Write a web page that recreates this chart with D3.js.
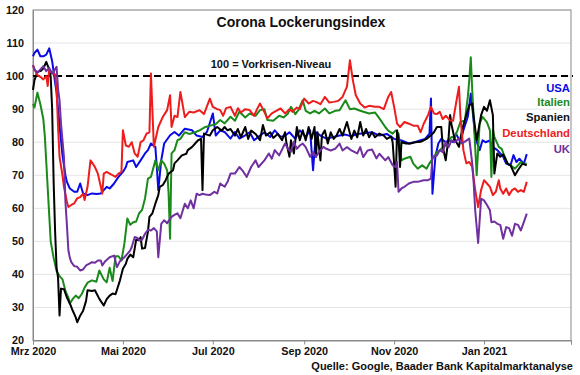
<!DOCTYPE html>
<html>
<head>
<meta charset="utf-8">
<script src="https://cdn.jsdelivr.net/npm/d3@7"></script>
<style>
  body { margin: 0; background: #fff; }
  text { font-family: "Liberation Sans", Arial, sans-serif; font-weight: bold; }
</style>
</head>
<body>
<div id="chart"></div>
<script>
/* Corona Lockerungsindex - Google mobility, 100 = pre-crisis level */

// day offsets counted from 1 March 2020, value = index
const usa = [[0,106],[1,107],[3,108],[5,106],[7,106],[9,106.5],[11,108.4],[13,104.5],[15,98],[16,95],[18,85],[20,76],[22,70],[23,68],[25,66],[28,65],[30,65],[32,67.5],[34,64.5],[37,64],[40,64.5],[43,64.3],[46,64.5],[48,65.5],[50,66.5],[52,66],[55,67.5],[58,69.5],[61,71],[63,72.5],[64,74],[68,74.5],[70,72.5],[73,74.5],[76,76.6],[78,77.6],[80,79.6],[83,78.6],[84,72.5],[85,65.5],[87,74.5],[89,79.6],[93,82.1],[96,83.1],[99,82],[103,84.1],[108,83.6],[111,82],[115,81.6],[118,83.1],[122,88.7],[124,82],[127,83.6],[130,83.1],[134,81.1],[137,83.1],[140,81.1],[144,82.1],[147,83],[150,80.6],[154,82],[157,83],[161,81.6],[164,83.6],[168,81.6],[171,82],[174,83],[178,81],[181,83.6],[185,81.6],[188,83.6],[190,71.5],[192,83],[195,82],[199,81.1],[203,81.5],[208,82],[212,82.3],[216,81.8],[220,82.5],[225,82.7],[230,83],[235,82],[240,82.5],[245,81],[250,80.5],[255,79.6],[259,80],[263,80.6],[266,81],[269,82.6],[270,93.2],[271,64.4],[273,75.6],[275,79.6],[277,81],[280,80],[282,80.6],[285,80],[287,82.6],[290,80],[292,83.6],[295,87.7],[297,94.7],[298,90.7],[300,81.6],[303,77.6],[305,80.6],[307,80],[310,80.5],[312,78.5],[315,77.6],[317,76.6],[319,75.6],[321,73.5],[324,73],[326,76.1],[328,74],[330,75],[333,73.5],[335,76.4]];

const italien = [[0,91.5],[1,90.5],[3,95],[5,91.5],[7,87],[8,82],[9,74],[10,66],[11,58],[12,50],[14,45],[16,41],[18,39.5],[20,38.5],[22,35],[24,33],[25,31.2],[27,32.6],[29,33.6],[31,32.8],[33,34],[35,36],[37,37.5],[40,38.2],[43,37.8],[45,41.2],[48,38.5],[50,37.6],[52,42],[54,38],[56,45.5],[58,45.5],[60,44.2],[62,49.3],[64,56.9],[66,55],[68,55.8],[70,56],[72,58.5],[74,59.5],[76,63],[78,69],[80,69.5],[83,74.5],[85,71.5],[87,74.5],[89,73.5],[91,71.5],[92,64.4],[93,50.8],[94,76.6],[96,77.6],[98,80.6],[100,81],[103,83],[106,82.5],[110,83],[113,83.6],[117,84.6],[121,85.1],[124,85.5],[127,86.7],[130,85.7],[134,87.7],[137,86.5],[140,89.2],[144,87.5],[147,88.7],[151,88],[154,89.7],[157,90],[159,86.7],[163,86.5],[167,88],[170,87.5],[173,88.7],[175,90.7],[178,88.5],[180,89.7],[183,92.7],[185,89.5],[188,88.7],[191,89.5],[194,88.7],[198,90.2],[201,88.7],[205,89.5],[208,89.7],[212,92.7],[215,90],[218,90.2],[222,89.5],[228,88.7],[232,89],[235,87.2],[239,84.6],[241,83.5],[244,82.6],[246,83.5],[248,82.6],[250,74.5],[252,75],[256,75.6],[258,73.5],[261,72],[264,73],[267,72],[269,73.6],[272,75.6],[274,77],[276,77.5],[278,78.5],[280,79],[282,80.6],[284,81.6],[286,81.5],[288,83.6],[290,86.2],[293,86.5],[295,93.7],[296,98.8],[297,105.7],[298,95.7],[300,78.6],[301,70],[303,85.6],[305,87.7],[308,86],[310,83.6],[311,69.5],[312,83.6],[313,81.6],[316,78.6],[318,78],[320,75.6],[322,73.5],[324,73],[327,72],[329,73],[331,74],[333,73.5],[335,73.5]];

const spanien = [[0,95.8],[1,98.8],[3,101.3],[5,101.5],[7,102.3],[9,104.3],[11,102],[12,99.8],[13,90],[14,68],[15,53],[16,42],[17,39],[18,27.6],[19,35.7],[21,35.5],[23,33],[25,31.2],[27,29],[29,27],[30,25.5],[32,27.5],[34,29],[36,32],[37,35.2],[40,35],[42,35.2],[45,32.6],[48,30.6],[50,32.5],[52,33.6],[54,34.2],[56,34],[59,38.2],[61,41.7],[63,43.2],[64,44.7],[66,46],[68,45.2],[70,50.5],[72,50.3],[73,51.3],[74,47.8],[76,48],[78,53],[79,57.4],[81,58.5],[83,61.4],[85,64],[86,66.5],[88,67],[90,68.5],[92,70.5],[95,71.5],[96,73.6],[98,74.5],[101,76],[104,76.5],[105,77.6],[108,78.6],[110,79.6],[112,80.6],[114,81],[115,65.5],[116,82.6],[120,82],[122,83.6],[125,84.6],[128,83.5],[130,84.6],[132,83.6],[134,84],[137,82],[139,84],[141,81.5],[144,84.6],[146,81],[148,83.5],[151,82.5],[154,80.6],[156,85.2],[158,82],[161,83],[163,81.3],[166,82.5],[169,80.6],[171,83],[172,79.6],[174,75.6],[175,80.6],[177,76.6],[179,84.6],[181,80.6],[183,83.6],[185,80.6],[187,84.6],[189,81],[191,84.6],[192,75.6],[193,83],[195,74.5],[196,82],[198,83.6],[200,79.6],[202,83],[204,81],[206,82.1],[208,84],[210,82],[213,86.1],[216,81],[218,83.5],[220,81.5],[222,86.1],[224,82],[226,84],[228,81.5],[230,83],[232,81.5],[235,82.6],[238,82],[240,81],[243,81.7],[244,80],[245,73.5],[246,66.5],[247,83.6],[248,81],[249,72.5],[250,80],[253,79.6],[256,79.6],[259,80],[263,80.1],[267,81],[270,82.1],[272,83],[274,84.6],[277,84.6],[278,78.6],[280,74.5],[282,81.6],[283,88.2],[284,85.2],[286,81],[289,78.6],[291,83.6],[293,86.7],[296,91.2],[298,91.7],[299,87.7],[301,80.6],[304,88.2],[306,90.7],[308,89.5],[310,92.7],[312,88.2],[313,70.5],[315,76.6],[317,75.6],[319,76.3],[322,73.5],[324,73],[325,72],[327,70],[329,71.5],[332,73.5],[335,73]];

const deutschland = [[0,103.3],[1,102],[3,100.3],[5,99.8],[7,99],[9,100],[10,97],[11,102],[13,101],[15,100.5],[16,96],[17,84.6],[18,75.6],[20,70],[21,66.5],[23,62],[24,60.4],[26,61],[28,61.5],[30,63],[32,63.4],[34,64.4],[35,62.5],[37,66.5],[39,74.5],[41,73.2],[42,72.5],[44,70.5],[46,66.5],[47,64.4],[48,70.5],[50,71],[52,70.5],[54,70],[56,69.5],[58,70.5],[60,71],[61,83.6],[63,79],[65,78.6],[67,80],[69,76.6],[71,75.6],[73,80],[75,80.6],[77,82.6],[79,83],[80,100.8],[82,78.6],[85,84.6],[88,87.6],[91,89.7],[93,94.2],[94,84.6],[96,88],[98,87.6],[100,95.2],[103,87.6],[106,89.2],[109,89],[113,89.7],[116,88.5],[120,93.2],[122,90.7],[125,90],[127,89.7],[129,88],[131,90.3],[134,90.7],[137,88],[139,90.3],[141,89],[144,90],[147,89.7],[150,88],[152,90],[154,91.7],[156,90],[159,87.2],[162,88.7],[165,89.5],[168,90.2],[171,88.7],[174,90],[176,89.2],[179,90.5],[181,90],[184,93.2],[187,91.7],[190,92.5],[192,92.2],[195,91.5],[198,93.7],[201,92],[204,92.2],[207,92.5],[210,93.7],[213,96.8],[215,104.8],[217,98.8],[219,94.2],[222,91.7],[225,90.5],[228,91],[232,90.7],[235,90.7],[238,90],[241,93.7],[243,95.2],[245,90.7],[247,85.6],[249,84.6],[252,86.1],[255,85.6],[258,85],[261,85],[263,83],[265,85.5],[268,88.2],[270,90.7],[272,88.7],[274,88.5],[276,89.2],[278,87],[280,88],[283,86.6],[285,86.5],[287,91.7],[289,96.8],[290,87.7],[292,77.6],[294,73.6],[296,74],[298,72.5],[300,65.5],[302,60.4],[304,65.5],[306,68.5],[308,67.5],[310,66.5],[312,64],[314,65],[316,68.5],[317,66],[319,64.4],[321,66],[323,64],[325,65.5],[327,66],[329,65],[331,65.5],[333,65],[335,68]];

const uk = [[0,103.3],[1,102],[3,101],[4,101.5],[7,103],[9,101.5],[11,102.5],[13,100.7],[16,102.8],[17,96],[18,92.7],[19,85.6],[21,75.6],[22,62],[23,55],[24,47.3],[25,45],[26,43.7],[28,42.5],[30,42.3],[32,41.2],[34,41.5],[36,42.7],[38,43.2],[40,43.7],[42,43.5],[44,44.2],[46,44.2],[47,42.7],[49,44],[52,45.2],[55,45.7],[57,42.2],[59,44],[62,45.2],[64,46.2],[66,47.3],[67,48.3],[69,51.3],[71,51],[72,50.3],[74,50.5],[76,52.3],[78,53.5],[80,53.3],[82,54],[84,53],[85,45.2],[87,55.3],[89,56.4],[91,55.5],[94,57.4],[96,58],[98,58.5],[100,57],[103,61.4],[105,60],[107,62.4],[109,60],[111,64.4],[113,64],[115,64.4],[117,64.2],[120,64],[123,65],[125,64.5],[127,67.5],[130,66.5],[132,68],[134,70.5],[137,70.5],[140,72.5],[142,71.5],[145,69.5],[148,72.5],[151,74.5],[153,72.5],[157,74.5],[160,76.6],[162,75],[164,77.6],[167,76],[169,77.8],[171,79.6],[173,78],[175,77.1],[177,80.1],[179,78],[181,79],[183,79.6],[185,78.5],[188,75.6],[190,77],[192,75.6],[194,77],[197,78.6],[199,78],[202,77.5],[205,78],[208,79.6],[210,77.5],[213,78.5],[216,77.5],[220,76.6],[222,78.5],[224,75.5],[227,77.5],[230,77.8],[233,75.1],[235,76.5],[239,74.5],[241,75.5],[244,73],[246,72.5],[247,74],[248,65],[250,66],[252,66.5],[255,67.5],[258,68],[261,68],[265,68.5],[268,68.5],[270,69],[271,75.6],[274,76],[276,77.6],[278,77],[280,80.1],[282,78.5],[284,80.6],[286,80],[289,81.1],[291,79.6],[294,80.5],[296,81.1],[298,73.5],[299,67.5],[300,59.4],[302,49.5],[304,62.9],[306,62.4],[308,61],[310,59.4],[311,55.8],[313,56],[315,55.3],[317,55],[319,50.8],[321,54.3],[323,54],[325,51.7],[327,55.3],[329,55],[331,53.3],[333,55.8],[335,58.4]];

const seriesNames = ["USA", "Italien", "Spanien", "Deutschland", "UK"];
const seriesColors = ["#0a0ae6", "#1a8a1a", "#000000", "#ee1c1c", "#7030a0"];
const yTicks = [20, 30, 40, 50, 60, 70, 80, 90, 100, 110, 120];
const xTickLabels = ["Mrz 2020", "Mai 2020", "Jul 2020", "Sep 2020", "Nov 2020", "Jan 2021", ""];
const title = "Corona Lockerungsindex";
const refLabel = "100 = Vorkrisen-Niveau";
const source = "Quelle: Google, Baader Bank Kapitalmarktanalyse";

const width = 580,
      height = 375,
      margin = ({top: 10, right: 9, bottom: 34.5, left: 33});

const start = new Date(2020, 2, 1);
const allSeries = [usa, italien, spanien, deutschland, uk].map((s, i) => ({
    name: seriesNames[i],
    color: seriesColors[i],
    values: s.map(d => ({date: d3.timeDay.offset(start, d[0]), value: d[1]}))
}));

let svg = d3.select("#chart")
    .append("svg")
    .attr("width", width)
    .attr("height", height);

let x = d3.scaleTime()
    .domain([start, new Date(2021, 2, 1)])
    .range([margin.left, width - margin.right]);

let y = d3.scaleLinear()
    .domain([20, 120])
    .range([height - margin.bottom, margin.top]);

// gridlines
svg.append("g")
    .selectAll("line")
    .data(yTicks.slice(1))
    .join("line")
    .attr("x1", margin.left)
    .attr("x2", width - margin.right)
    .attr("y1", d => y(d))
    .attr("y2", d => y(d))
    .attr("stroke", "#e4e4e4")
    .attr("stroke-width", 1);

// frame
svg.append("rect")
    .attr("x", margin.left)
    .attr("y", margin.top)
    .attr("width", width - margin.right - margin.left)
    .attr("height", height - margin.bottom - margin.top)
    .attr("fill", "none")
    .attr("stroke", "#8a8a8a")
    .attr("stroke-width", 1);

const xTicks = d3.timeMonth.every(2).range(start, new Date(2021, 2, 2));

const xAxis = g => g
    .attr("transform", `translate(0,${height - margin.bottom})`)
    .call(d3.axisBottom(x).tickValues(xTicks).tickSize(4).tickPadding(3)
        .tickFormat((d, i) => xTickLabels[i]))
    .call(g => g.select(".domain").attr("stroke", "#8a8a8a"))
    .call(g => g.selectAll(".tick line").attr("stroke", "#8a8a8a"))
    .call(g => g.selectAll(".tick text")
        .attr("fill", "#111")
        .style("font-size", "10.8px")
        .style("font-family", "Liberation Sans, Arial, sans-serif")
        .style("font-weight", "bold"));

const yAxis = g => g
    .attr("transform", `translate(${margin.left},0)`)
    .call(d3.axisLeft(y).tickValues(yTicks).tickSize(0).tickPadding(9))
    .call(g => g.select(".domain").attr("stroke", "#8a8a8a"))
    .call(g => g.selectAll(".tick text")
        .attr("fill", "#111")
        .style("font-size", "10.8px")
        .style("font-family", "Liberation Sans, Arial, sans-serif")
        .style("font-weight", "bold"));

svg.append("g").call(xAxis);
svg.append("g").call(yAxis);

// reference line at 100
svg.append("line")
    .attr("x1", margin.left)
    .attr("x2", width - 7)
    .attr("y1", y(100))
    .attr("y2", y(100))
    .attr("stroke", "#000")
    .attr("stroke-width", 2)
    .attr("stroke-dasharray", "7,4");

let line = d3.line()
    .x(d => x(d.date))
    .y(d => y(d.value));

svg.append("g")
    .selectAll("path")
    .data(allSeries)
    .join("path")
    .attr("fill", "none")
    .attr("stroke", d => d.color)
    .attr("stroke-width", 2)
    .attr("stroke-linejoin", "round")
    .attr("d", d => line(d.values));

// labels
svg.append("text")
    .attr("x", 301)
    .attr("y", 27)
    .attr("text-anchor", "middle")
    .style("font-size", "14px")
    .attr("fill", "#111")
    .text(title);

svg.append("text")
    .attr("x", 271)
    .attr("y", 68)
    .attr("text-anchor", "middle")
    .style("font-size", "11px")
    .attr("fill", "#111")
    .text(refLabel);

const legendY = [91.5, 106, 120.5, 136.5, 152.5];
svg.append("g")
    .selectAll("text")
    .data(allSeries)
    .join("text")
    .attr("x", 570)
    .attr("y", (d, i) => legendY[i])
    .attr("text-anchor", "end")
    .style("font-size", "11.3px")
    .attr("fill", d => d.name === "Spanien" ? "#111" : d.color)
    .text(d => d.name);

svg.append("text")
    .attr("x", 573)
    .attr("y", 370)
    .attr("text-anchor", "end")
    .style("font-size", "11px")
    .attr("fill", "#111")
    .text(source);
</script>
</body>
</html>
